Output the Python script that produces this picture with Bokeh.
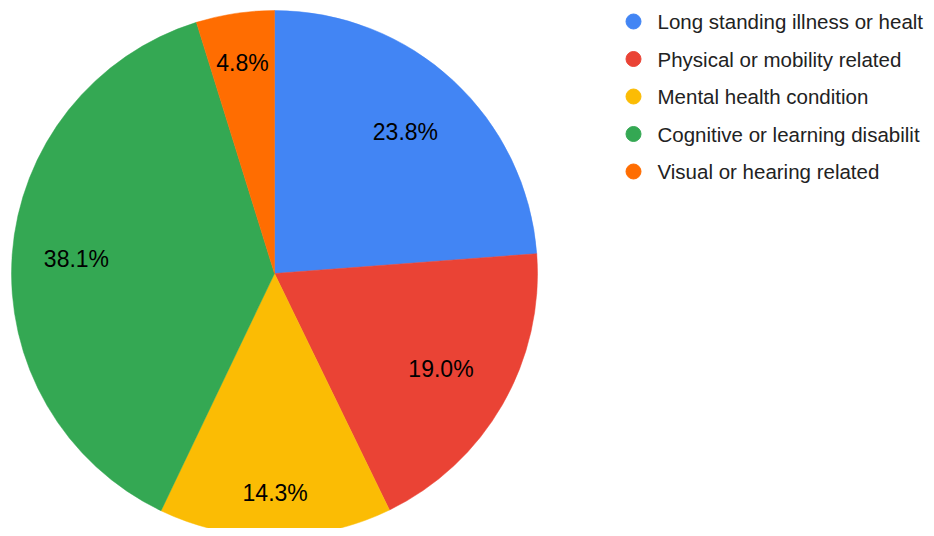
import math
from bokeh.plotting import figure
from bokeh.models import ColumnDataSource, Range1d
from bokeh.core.properties import value
from bokeh.embed import file_html
from bokeh.resources import INLINE

categories = ["Long standing illness or healt", "Physical or mobility related",
              "Mental health condition", "Cognitive or learning disabilit",
              "Visual or hearing related"]
percentages = [23.8, 19.0, 14.3, 38.1, 4.8]
colors = ["#4285F4", "#EA4335", "#FBBC04", "#34A853", "#FF6D01"]

# layout: radial placement of each slice label, as fraction of radius
label_rf = [0.732, 0.73, 0.833, 0.755, 0.81]

W, H = 926, 528
CX, CY, R = 274, 255, 263
FONT = "Liberation Sans"

total = sum(percentages)
starts, ends, lx, ly, labels = [], [], [], [], []
cum = 0.0
for v, rf in zip(percentages, label_rf):
    a0 = math.pi / 2 - 2 * math.pi * cum / total
    cum += v
    a1 = math.pi / 2 - 2 * math.pi * cum / total
    starts.append(a0)
    ends.append(a1)
    mid = (a0 + a1) / 2
    lx.append(CX + rf * R * math.cos(mid))
    ly.append(CY + rf * R * math.sin(mid))
    labels.append(f"{v:.1f}%")

src = ColumnDataSource(dict(start=starts, end=ends, color=colors,
                            lx=lx, ly=ly, label=labels))

p = figure(width=W, height=H, output_backend="svg", toolbar_location=None,
           x_range=Range1d(0, W), y_range=Range1d(0, H),
           x_axis_location=None, y_axis_location=None,
           min_border=0, outline_line_color=None)
p.xgrid.visible = False
p.ygrid.visible = False

p.wedge(x=CX, y=CY, radius=R, start_angle="start", end_angle="end",
        direction="clock", fill_color="color", line_color="color",
        line_width=0.5, source=src)
p.text(x="lx", y="ly", text="label", source=src, text_align="center",
       text_baseline="middle", text_font=value(FONT), text_font_size="23px",
       text_color="#000000")

# legend
LEG_X, LEG_Y0, LEG_DY = 633, 507, 37.5
leg = ColumnDataSource(dict(
    x=[LEG_X] * len(categories),
    tx=[LEG_X + 24] * len(categories),
    y=[LEG_Y0 - i * LEG_DY for i in range(len(categories))],
    name=categories, color=colors))
p.scatter(x="x", y="y", size=15, fill_color="color", line_color="color", source=leg)
p.text(x="tx", y="y", text="name", source=leg, text_align="left",
       text_baseline="middle", text_font=value(FONT), text_font_size="20.5px",
       text_color="#222222")

open("out.html", "w").write(file_html(p, INLINE))
